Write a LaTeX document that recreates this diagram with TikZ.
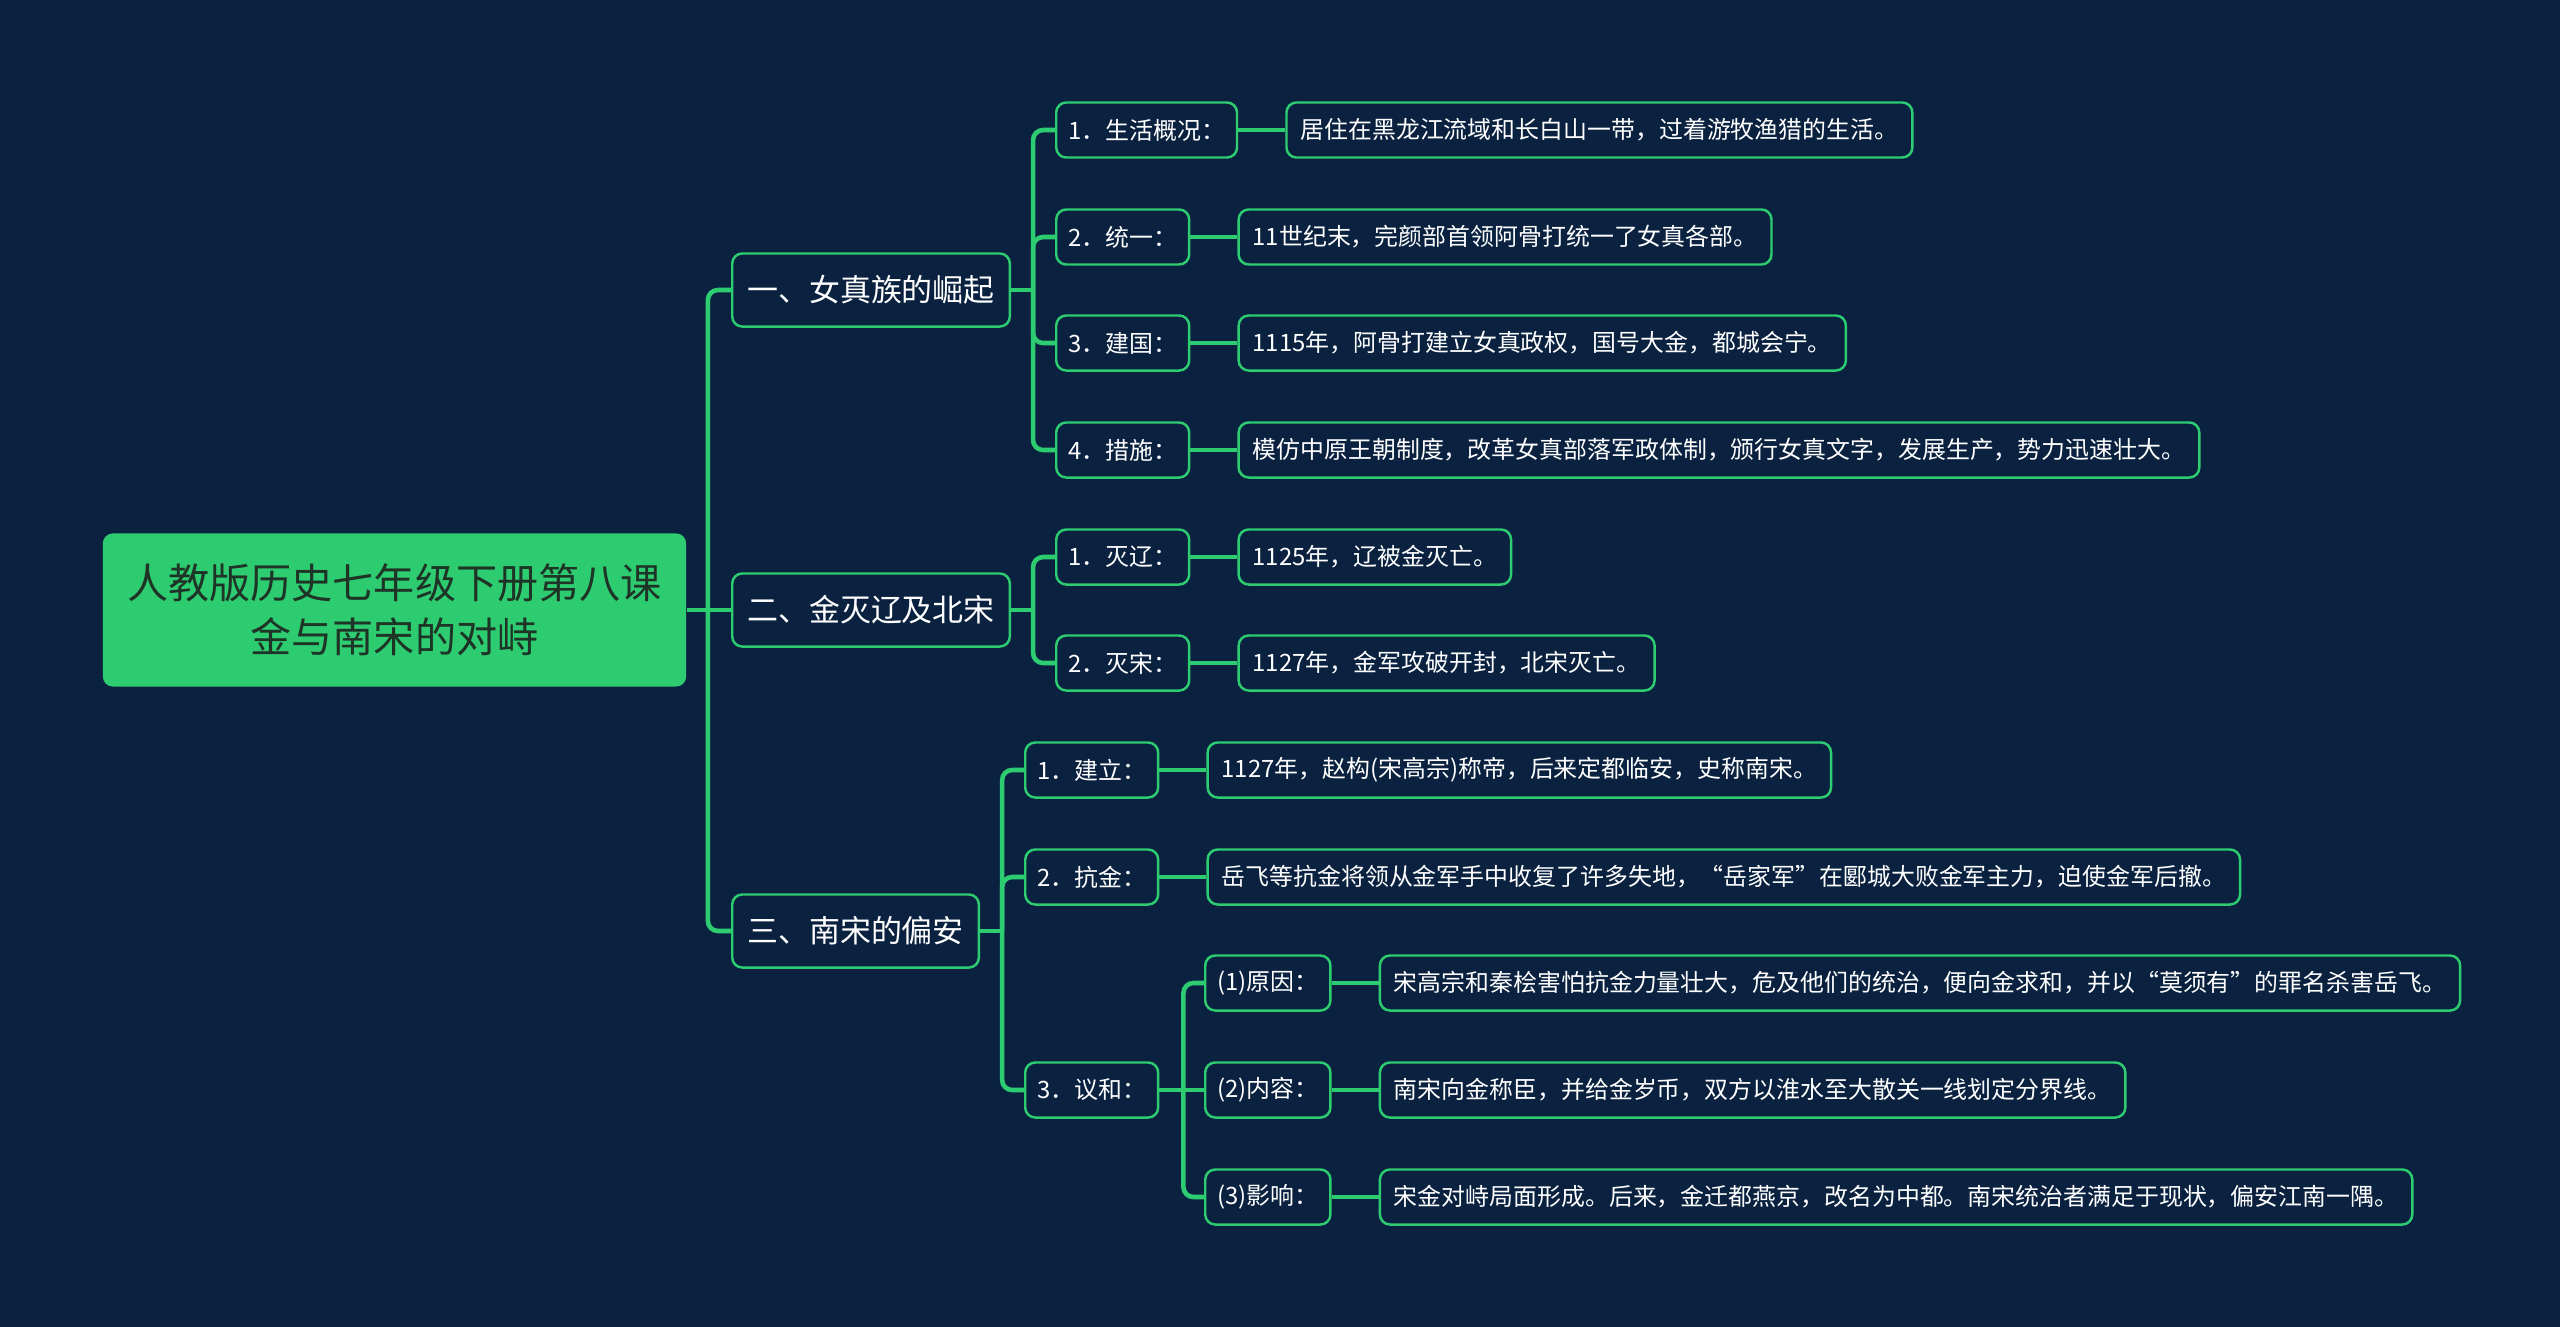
\documentclass[tikz,border=0pt]{standalone}
\usepackage{fontspec}
\setmainfont{Noto Sans CJK SC}
\usetikzlibrary{positioning}
\definecolor{bg}{RGB}{10,34,64}
\definecolor{gr}{RGB}{46,204,113}
\definecolor{roottext}{RGB}{30,52,38}
\begin{document}
\begin{tikzpicture}[x=0.01cm,y=-0.01cm,
  rootbox/.style={fill=gr, rounded corners=0.1cm, minimum width=5.83cm, minimum height=1.53cm, inner sep=0pt, align=center, text=roottext, font=\fontsize{11.7pt}{15.3pt}\selectfont},
  lvone/.style={draw=gr, line width=0.7pt, fill=bg, rounded corners=0.1cm, minimum height=0.73cm, inner xsep=0.15cm, inner ysep=0pt, text=white, font=\fontsize{8.8pt}{10pt}\selectfont, anchor=west},
  lvtwo/.style={draw=gr, line width=0.7pt, fill=bg, rounded corners=0.1cm, minimum height=0.55cm, inner xsep=0.14cm, inner ysep=0pt, text=white, font=\fontsize{6.8pt}{8pt}\selectfont, anchor=west},
  lvlabel/.style={lvtwo, inner xsep=0.12cm},
  conn/.style={draw=gr, line width=1.3pt},
  fork/.style={conn, rounded corners=0.1cm}]
\fill[bg] (0,0) rectangle (2560,1327);
\useasboundingbox (0,0) rectangle (2560,1327);

% root
\node[rootbox] (root) at (394.5,610) {人教版历史七年级下册第八课\\金与南宋的对峙};

% level one
\node[lvone] (A) at (731,290) {一、女真族的崛起};
\node[lvone] (B) at (731,610) {二、金灭辽及北宋};
\node[lvone] (C) at (731,931) {三、南宋的偏安};

% level two under A
\node[lvlabel] (A1) at (1055,130) {1．生活概况：};
\node[lvlabel] (A2) at (1055,237) {2．统一：};
\node[lvlabel] (A3) at (1055,343) {3．建国：};
\node[lvlabel] (A4) at (1055,450) {4．措施：};
\node[lvtwo, right=0.47cm of A1] (A1x) {居住在黑龙江流域和长白山一带，过着游牧渔猎的生活。};
\node[lvtwo, right=0.47cm of A2] (A2x) {11世纪末，完颜部首领阿骨打统一了女真各部。};
\node[lvtwo, right=0.47cm of A3] (A3x) {1115年，阿骨打建立女真政权，国号大金，都城会宁。};
\node[lvtwo, right=0.47cm of A4] (A4x) {模仿中原王朝制度，改革女真部落军政体制，颁行女真文字，发展生产，势力迅速壮大。};

% level two under B
\node[lvlabel] (B1) at (1055,557) {1．灭辽：};
\node[lvlabel] (B2) at (1055,663) {2．灭宋：};
\node[lvtwo, right=0.47cm of B1] (B1x) {1125年，辽被金灭亡。};
\node[lvtwo, right=0.47cm of B2] (B2x) {1127年，金军攻破开封，北宋灭亡。};

% level two under C
\node[lvlabel] (C1) at (1024,770) {1．建立：};
\node[lvlabel] (C2) at (1024,877) {2．抗金：};
\node[lvlabel] (C3) at (1024,1090) {3．议和：};
\node[lvtwo, right=0.47cm of C1] (C1x) {1127年，赵构(宋高宗)称帝，后来定都临安，史称南宋。};
\node[lvtwo, right=0.47cm of C2] (C2x) {岳飞等抗金将领从金军手中收复了许多失地，“岳家军”在郾城大败金军主力，迫使金军后撤。};

% level three under C3
\node[lvlabel] (D1) at (1204,983) {(1)原因：};
\node[lvlabel] (D2) at (1204,1090) {(2)内容：};
\node[lvlabel] (D3) at (1204,1197) {(3)影响：};
\node[lvtwo, right=0.47cm of D1] (D1x) {宋高宗和秦桧害怕抗金力量壮大，危及他们的统治，便向金求和，并以“莫须有”的罪名杀害岳飞。};
\node[lvtwo, right=0.47cm of D2] (D2x) {南宋向金称臣，并给金岁币，双方以淮水至大散关一线划定分界线。};
\node[lvtwo, right=0.47cm of D3] (D3x) {宋金对峙局面形成。后来，金迁都燕京，改名为中都。南宋统治者满足于现状，偏安江南一隅。};

% connectors root -> level one
\draw[conn] (root.east) -- ++(0.21cm,0) coordinate (t0);
\draw[fork] (t0) |- (A.west);
\draw[conn] (t0) -- (B.west);
\draw[fork] (t0) |- (C.west);

% A
\draw[conn] (A.east) -- ++(0.22cm,0) coordinate (tA);
\foreach \n in {A1,A2,A3,A4} \draw[fork] (tA) |- (\n.west);
\foreach \n in {A1,A2,A3,A4} \draw[conn] (\n.east) -- (\n x.west);

% B
\draw[conn] (B.east) -- ++(0.22cm,0) coordinate (tB);
\foreach \n in {B1,B2} \draw[fork] (tB) |- (\n.west);
\foreach \n in {B1,B2} \draw[conn] (\n.east) -- (\n x.west);

% C
\draw[conn] (C.east) -- ++(0.22cm,0) coordinate (tC);
\foreach \n in {C1,C2,C3} \draw[fork] (tC) |- (\n.west);
\foreach \n in {C1,C2} \draw[conn] (\n.east) -- (\n x.west);

% D
\draw[conn] (C3.east) -- ++(0.24cm,0) coordinate (tD);
\draw[fork] (tD) |- (D1.west);
\draw[conn] (tD) -- (D2.west);
\draw[fork] (tD) |- (D3.west);
\foreach \n in {D1,D2,D3} \draw[conn] (\n.east) -- (\n x.west);
\end{tikzpicture}
\end{document}
